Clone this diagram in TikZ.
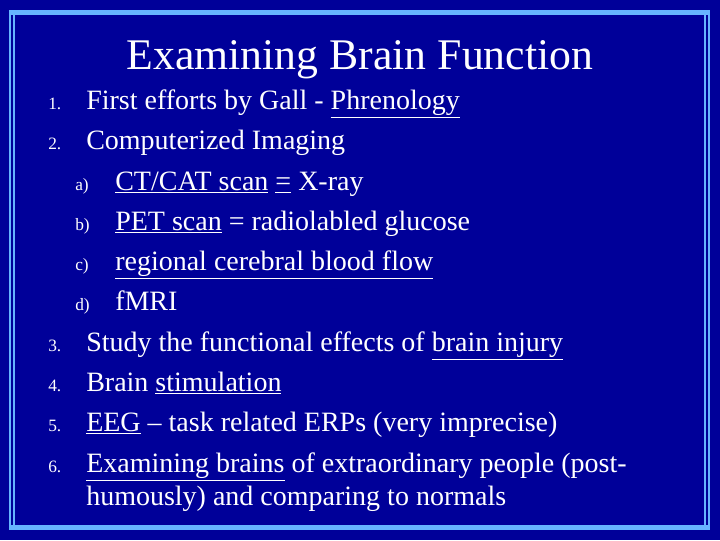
\documentclass[tikz,border=0pt]{standalone}
\usepackage{fontspec}
\setmainfont{Liberation Serif}
\definecolor{navy}{RGB}{0,0,153}
\definecolor{lblue}{RGB}{102,180,255}
\begin{document}
\begin{tikzpicture}[x=0.75pt,y=-0.75pt,
  body/.style={anchor=base west,inner sep=0pt,text=white,font=\fontsize{21}{24}\selectfont},
  num/.style={anchor=base west,inner sep=0pt,text=white,font=\fontsize{13}{15}\selectfont}]
\fill[navy] (0,0) rectangle (720,540);
\useasboundingbox (0,0) rectangle (720,540);
% frame
\fill[lblue] (9,10) rectangle (710,15);
\fill[lblue] (9,525) rectangle (710,530);
\draw[lblue,line width=1pt] (10,10) -- (10,530);
\fill[lblue] (13,10) rectangle (15,530);
\fill[lblue] (704,10) rectangle (706,530);
\draw[lblue,line width=1pt] (709,10) -- (709,530);
\node[anchor=base,inner sep=0pt,text=white,font=\fontsize{32.8}{36}\selectfont] (title) at (360,69) {Examining Brain Function};
\foreach \n/\y in {1/109,2/149,3/351,4/391,5/431,6/472}{
  \node[num] (n\n) at (48,\y) {\n.};
}
\foreach \n/\y in {a/190,b/230,c/270,d/310}{
  \node[num] (s\n) at (75,\y) {\n)};
}
\node[body] (l1) at (86,109) {First efforts by Gall - \underline{Phrenology}};
\node[body] (l2) at (86,149) {Computerized Imaging};
\node[body] (la) at (115,190) {\underline{CT/CAT scan} \underline{=} X-ray};
\node[body] (lb) at (115,230) {\underline{PET scan} = radiolabled glucose};
\node[body] (lc) at (115,270) {\underline{regional cerebral blood flow}};
\node[body] (ld) at (115,310) {fMRI};
\node[body] (l3) at (86,351) {Study the functional effects of \underline{brain injury}};
\node[body] (l4) at (86,391) {Brain \underline{stimulation}};
\node[body] (l5) at (86,431) {\underline{EEG} -- task related ERPs (very imprecise)};
\node[body] (l6) at (86,472) {\underline{Examining brains} of extraordinary people (post-};
\node[body] (l7) at (86,505) {humously) and comparing to normals};
\end{tikzpicture}
\end{document}
